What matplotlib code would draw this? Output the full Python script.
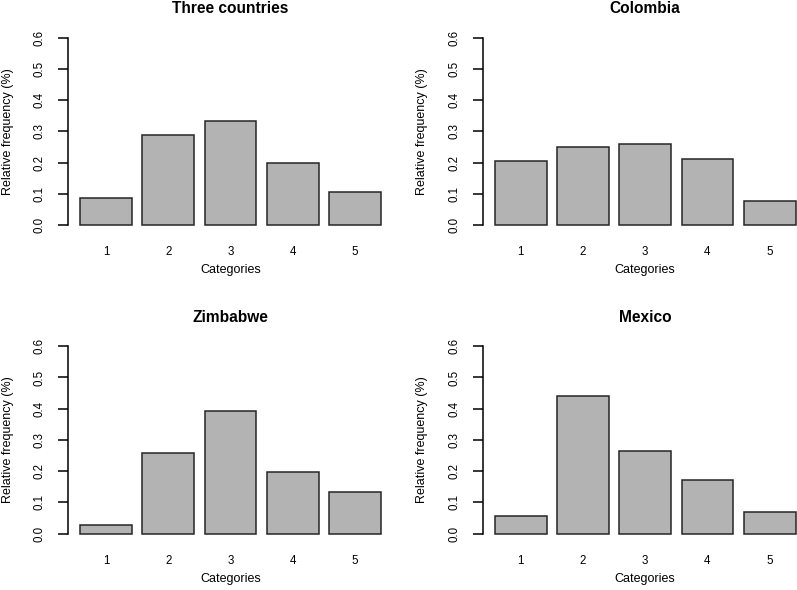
import numpy as np
import matplotlib
matplotlib.use("Agg")
import matplotlib.pyplot as plt

plt.rcParams['font.family'] = ['Liberation Sans', 'DejaVu Sans']

categories = ["1", "2", "3", "4", "5"]
titles = ["Three countries", "Colombia", "Zimbabwe", "Mexico"]
three_countries = [0.085, 0.288, 0.333, 0.197, 0.105]
colombia = [0.205, 0.250, 0.259, 0.211, 0.076]
zimbabwe = [0.028, 0.257, 0.394, 0.197, 0.134]
mexico = [0.056, 0.442, 0.264, 0.172, 0.071]
y_ticks = [0.0, 0.1, 0.2, 0.3, 0.4, 0.5, 0.6]
x_label = "Categories"
y_label = "Relative frequency (%)"

W, H = 797, 590
fig = plt.figure(figsize=(W / 100, H / 100), dpi=100)

# plot regions in pixels: (left, top, width, height)
regions = [
    (68.0, 30.0, 325.0, 202.5),
    (482.7, 30.0, 325.0, 202.5),
    (68.0, 338.7, 325.0, 202.5),
    (482.7, 338.7, 325.0, 202.5),
]
series = [three_countries, colombia, zimbabwe, mexico]

bar_w = 1.0
space = 0.2
centers = space + bar_w / 2 + np.arange(len(categories)) * (bar_w + space)
xl0 = space
xl1 = centers[-1] + bar_w / 2
xpad = 0.04 * (xl1 - xl0)

for (l, t, w, h), vals, title in zip(regions, series, titles):
    ax = fig.add_axes([l / W, 1 - (t + h) / H, w / W, h / H])
    ax.bar(centers, vals, width=bar_w, color='#B3B3B3', edgecolor='#262626',
           linewidth=1.1)
    ax.set_xlim(xl0 - xpad, xl1 + xpad)
    ax.set_ylim(-0.024, 0.624)
    for s in ['top', 'right', 'bottom']:
        ax.spines[s].set_visible(False)
    ax.spines['left'].set_bounds(0, 0.6)
    ax.spines['left'].set_linewidth(1.1)
    ax.set_yticks(y_ticks)
    ax.set_yticklabels([f"{v:.1f}" for v in y_ticks], rotation=90, va='center')
    ax.tick_params(axis='y', direction='out', length=7.2, width=1.1,
                   pad=9.0, labelsize=8.3, colors='black')
    ax.set_xticks(centers)
    ax.set_xticklabels(categories)
    ax.tick_params(axis='x', length=0, pad=10.0, labelsize=8.3)
    ax.set_xlabel(x_label, fontsize=9)
    ax.xaxis.label.set_va('center')
    ax.xaxis.set_label_coords(0.5, -37.5 / h)
    ax.set_ylabel(y_label, fontsize=9)
    ax.yaxis.label.set_va('center')
    ax.yaxis.set_label_coords(-60.5 / w, 0.5)
    ax.set_title(title, fontsize=11.2, fontweight='bold', pad=12.2)
    ax.patch.set_visible(False)

fig.savefig("out.png", dpi=100, facecolor='white')
